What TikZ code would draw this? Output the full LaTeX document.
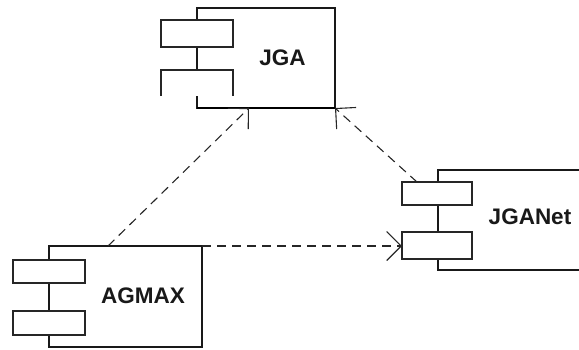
\documentclass[tikz,border=0pt]{standalone}
\usepackage{fontspec}
\setmainfont{Liberation Sans}
\usetikzlibrary{arrows.meta,decorations.markings}
\begin{document}
\begin{tikzpicture}[x=1pt,y=-1pt,
  box/.style={draw=black!90, line width=1.1pt, fill=white, inner sep=0pt, outer sep=0pt},
  port/.style={draw=black!85, line width=1.3pt, fill=white, inner sep=0pt, outer sep=0pt, minimum width=72pt},
  lbl/.style={font=\fontsize{22.5}{25}\selectfont\bfseries, inner sep=0pt, text=black!90},
  dep/.style={draw=black!85, line width=1.1pt, dash pattern=on 9pt off 6pt,
    postaction={decorate},
    decoration={markings, mark=at position 1 with {\pgfsetdash{}{0pt}\arrow{Straight Barb[length=14.5pt,width=29pt,line width=1.1pt]}}}}
]
\useasboundingbox (0,0) rectangle (579,349);
\clip (0,0) rectangle (579,349);
% JGA component
\node[box, minimum width=138pt, minimum height=100pt, anchor=north west] (jga) at (197,8) {};
\draw[line width=2pt] (jga.south west) -- (jga.south east);
\node[port, minimum height=27pt, anchor=north west] (jgaR1) at (161,20) {};
\node[fill=white, inner sep=0pt, outer sep=0pt, minimum width=72pt, minimum height=26pt, anchor=north west] (jgaR2) at (161,70) {};
\draw[draw=black!85, line width=1.3pt] (jgaR2.south west) |- (jgaR2.north east) -- (jgaR2.south east);
\node[lbl] (jgaT) at (282.5,57.5) {JGA};
% JGANet component
\node[box, minimum width=150pt, minimum height=100pt, anchor=north west] (net) at (438,170) {};
\node[port, minimum width=70pt, minimum height=23pt, anchor=north west] (netR1) at (402,182) {};
\node[port, minimum width=70pt, minimum height=27pt, anchor=north west] (netR2) at (402,232) {};
\node[lbl] (netT) at (530,217) {JGANet};
% AGMAX component
\node[box, minimum width=153pt, minimum height=101pt, anchor=north west] (agmax) at (49,246) {};
\node[port, minimum height=23pt, anchor=north west] (agR1) at (13,260) {};
\node[port, minimum height=24pt, anchor=north west] (agR2) at (13,311) {};
\node[lbl] (agT) at (143,296) {AGMAX};
% dependencies
\coordinate (a1) at ([xshift=59pt]agmax.north west);
\coordinate (j1) at ([xshift=52pt]jga.south west);
\coordinate (n1) at ([xshift=15pt]netR1.north west);
\draw[dep] (a1) -- (j1);
\draw[dep] (n1) -- (jga.south east);
\draw[dep] (agmax.north east) -- (agmax.north east -| netR2.west);
\end{tikzpicture}
\end{document}
